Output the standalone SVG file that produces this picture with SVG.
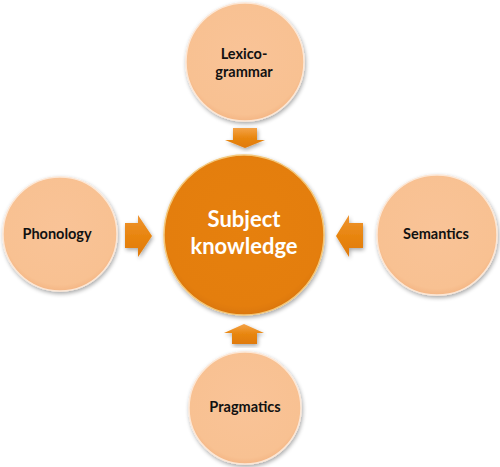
<svg xmlns="http://www.w3.org/2000/svg" width="500" height="467" viewBox="0 0 500 467">
  <defs>
    <filter id="sh" x="-20%" y="-20%" width="140%" height="140%">
      <feGaussianBlur in="SourceAlpha" stdDeviation="2"/>
      <feOffset dx="1" dy="2" result="b"/>
      <feComponentTransfer><feFuncA type="linear" slope="0.35"/></feComponentTransfer>
      <feMerge><feMergeNode/><feMergeNode in="SourceGraphic"/></feMerge>
    </filter>
    <radialGradient id="sat" cx="50%" cy="45%" r="55%">
      <stop offset="0" stop-color="#F9C397"/>
      <stop offset="0.9" stop-color="#F8C192"/>
      <stop offset="1" stop-color="#F4B685"/>
    </radialGradient>
    <radialGradient id="hub" cx="50%" cy="45%" r="55%">
      <stop offset="0" stop-color="#E6800F"/>
      <stop offset="0.9" stop-color="#E47E0E"/>
      <stop offset="1" stop-color="#DB760A"/>
    </radialGradient>
    <linearGradient id="arrV" x1="0" y1="0" x2="0" y2="1">
      <stop offset="0" stop-color="#F4A247"/>
      <stop offset="0.5" stop-color="#E8860F"/>
      <stop offset="1" stop-color="#E07A09"/>
    </linearGradient>
    <linearGradient id="arrH" x1="0" y1="0" x2="0" y2="1">
      <stop offset="0" stop-color="#EE9432"/>
      <stop offset="0.5" stop-color="#E8850F"/>
      <stop offset="1" stop-color="#E07A09"/>
    </linearGradient>
  </defs>
  <style>
    .sat { fill: url(#sat); stroke: #FCE7D6; stroke-width: 1.5; filter: url(#sh); }
    .hub { fill: url(#hub); stroke: #F3C77A; stroke-width: 1.5; filter: url(#sh); }
    .lbl { font-family: Lato, "Open Sans", "Liberation Sans", sans-serif; font-weight: 700; font-size: 14.5px; fill: #111; text-anchor: middle; }
    .hubt { font-family: Lato, "Open Sans", "Liberation Sans", sans-serif; font-weight: 700; font-size: 22px; fill: #FFFFFF; text-anchor: middle; }
    .av { fill: url(#arrV); filter: url(#sh); }
    .ah { fill: url(#arrH); filter: url(#sh); }
  </style>
  <rect width="500" height="467" fill="#FFFFFF"/>

  <g id="connectors">
    <polygon class="av" points="233,128 257,128 257,140 265,140 245,148 225,140 233,140"/>
    <polygon class="ah" points="125,223 138,223 138,215 152,236 138,257 138,248 125,248"/>
    <polygon class="ah" points="363,223 349,223 349,215 336,236 349,257 349,248 363,248"/>
    <polygon class="av" points="232,344 257,344 257,333 264,333 244,324 224,333 232,333"/>
  </g>

  <g id="hub">
    <circle class="hub" cx="244" cy="235" r="80"/>
    <text class="hubt" x="244" y="227">Subject</text>
    <text class="hubt" x="244" y="254">knowledge</text>
  </g>

  <g id="lexicogrammar">
    <circle class="sat" cx="245" cy="62" r="59"/>
    <text class="lbl" x="244" y="59">Lexico-</text>
    <text class="lbl" x="244" y="77">grammar</text>
  </g>

  <g id="phonology">
    <circle class="sat" cx="60" cy="234" r="57"/>
    <text class="lbl" x="57" y="239">Phonology</text>
  </g>

  <g id="semantics">
    <circle class="sat" cx="437" cy="235" r="60"/>
    <text class="lbl" x="436" y="239">Semantics</text>
  </g>

  <g id="pragmatics">
    <circle class="sat" cx="245" cy="408" r="56"/>
    <text class="lbl" x="245" y="412">Pragmatics</text>
  </g>
</svg>
